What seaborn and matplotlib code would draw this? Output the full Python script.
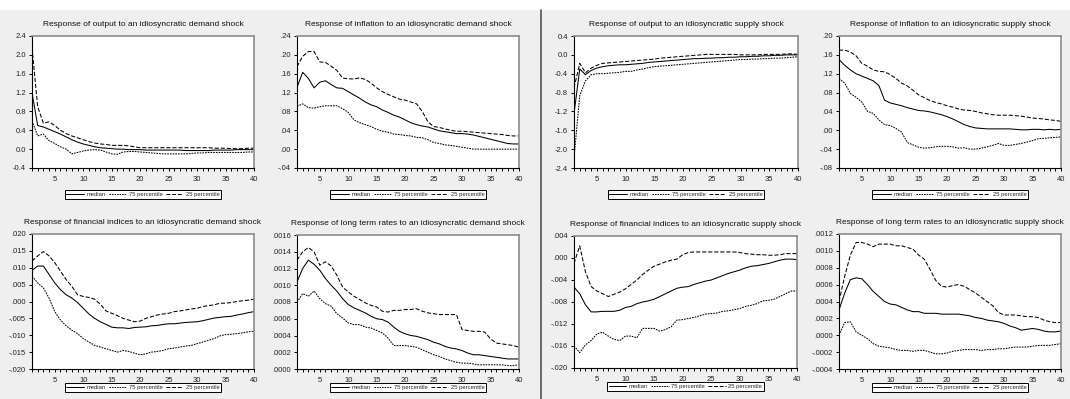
import matplotlib
matplotlib.use("Agg")
import matplotlib.pyplot as plt
from matplotlib.lines import Line2D
import pandas as pd
import seaborn as sns

horizon = list(range(1, 41))

# ---- Output, demand shock
out_dem_median = [1.20, 0.50, 0.47, 0.42, 0.37, 0.32, 0.26, 0.20, 0.15, 0.11, 0.08, 0.05, 0.03, 0.02, 0.01, 0.00, 0.00, -0.01, -0.01, -0.01,
                  -0.02, -0.02, -0.02, -0.02, -0.02, -0.02, -0.02, -0.03, -0.03, -0.03, -0.03, -0.03, -0.02, -0.02, -0.02, -0.02, -0.01, -0.01, -0.01, -0.01]
out_dem_p75 = [0.60, 0.28, 0.32, 0.18, 0.12, 0.05, 0.00, -0.10, -0.07, -0.04, -0.02, -0.01, -0.02, -0.06, -0.10, -0.11, -0.06, -0.05, -0.05, -0.06,
               -0.07, -0.08, -0.09, -0.10, -0.10, -0.10, -0.10, -0.10, -0.09, -0.08, -0.08, -0.07, -0.07, -0.07, -0.07, -0.07, -0.07, -0.07, -0.06, -0.06]
out_dem_p25 = [2.15, 0.90, 0.55, 0.58, 0.50, 0.40, 0.33, 0.28, 0.24, 0.20, 0.16, 0.13, 0.11, 0.10, 0.08, 0.08, 0.08, 0.07, 0.05, 0.03,
               0.03, 0.03, 0.03, 0.03, 0.03, 0.03, 0.03, 0.03, 0.03, 0.03, 0.03, 0.03, 0.02, 0.02, 0.02, 0.01, 0.01, 0.01, 0.02, 0.02]

# ---- Inflation, demand shock
inf_dem_median = [0.131, 0.163, 0.150, 0.130, 0.142, 0.145, 0.137, 0.130, 0.129, 0.122, 0.115, 0.108, 0.100, 0.094, 0.090, 0.083, 0.078, 0.072, 0.068, 0.062,
                  0.056, 0.052, 0.049, 0.047, 0.043, 0.039, 0.037, 0.035, 0.033, 0.033, 0.032, 0.030, 0.027, 0.024, 0.021, 0.018, 0.015, 0.012, 0.011, 0.011]
inf_dem_p75 = [0.091, 0.096, 0.088, 0.087, 0.090, 0.092, 0.092, 0.092, 0.086, 0.078, 0.062, 0.056, 0.052, 0.048, 0.042, 0.038, 0.036, 0.032, 0.031, 0.029,
               0.028, 0.025, 0.024, 0.020, 0.014, 0.012, 0.009, 0.008, 0.006, 0.004, 0.002, 0.000, 0.000, 0.000, 0.000, 0.000, 0.000, 0.000, 0.000, 0.000]
inf_dem_p25 = [0.175, 0.197, 0.207, 0.207, 0.185, 0.184, 0.176, 0.167, 0.151, 0.149, 0.149, 0.151, 0.148, 0.140, 0.130, 0.122, 0.116, 0.111, 0.106, 0.104,
               0.100, 0.096, 0.080, 0.058, 0.048, 0.046, 0.043, 0.040, 0.038, 0.038, 0.037, 0.036, 0.035, 0.034, 0.033, 0.032, 0.031, 0.029, 0.028, 0.028]

# ---- Output, supply shock
out_sup_median = [-1.25, -0.30, -0.42, -0.33, -0.28, -0.25, -0.23, -0.22, -0.21, -0.21, -0.20, -0.19, -0.18, -0.16, -0.15, -0.14, -0.13, -0.12, -0.11, -0.10,
                  -0.09, -0.08, -0.08, -0.07, -0.07, -0.06, -0.06, -0.05, -0.05, -0.04, -0.04, -0.03, -0.03, -0.02, -0.02, -0.01, -0.01, 0.00, 0.00, 0.00]
out_sup_p75 = [-2.20, -0.86, -0.55, -0.42, -0.40, -0.40, -0.39, -0.38, -0.37, -0.35, -0.35, -0.32, -0.30, -0.27, -0.25, -0.24, -0.23, -0.22, -0.21, -0.20,
               -0.19, -0.18, -0.17, -0.16, -0.15, -0.14, -0.13, -0.12, -0.11, -0.10, -0.10, -0.09, -0.09, -0.08, -0.08, -0.07, -0.07, -0.06, -0.05, -0.04]
out_sup_p25 = [-0.70, -0.18, -0.38, -0.28, -0.22, -0.18, -0.17, -0.16, -0.15, -0.14, -0.13, -0.12, -0.11, -0.10, -0.09, -0.07, -0.06, -0.05, -0.04, -0.03,
               -0.02, -0.01, 0.00, 0.01, 0.01, 0.01, 0.01, 0.01, 0.01, 0.00, 0.00, 0.00, 0.00, 0.01, 0.01, 0.01, 0.01, 0.02, 0.02, 0.01]

# ---- Inflation, supply shock
inf_sup_median = [0.150, 0.138, 0.128, 0.120, 0.115, 0.110, 0.105, 0.095, 0.064, 0.058, 0.055, 0.052, 0.048, 0.045, 0.042, 0.041, 0.039, 0.036, 0.033, 0.029,
                  0.024, 0.018, 0.012, 0.008, 0.005, 0.004, 0.003, 0.003, 0.003, 0.003, 0.003, 0.002, 0.001, 0.001, 0.002, 0.002, 0.001, 0.002, 0.001, 0.002]
inf_sup_p75 = [0.110, 0.100, 0.078, 0.070, 0.060, 0.040, 0.036, 0.022, 0.012, 0.010, 0.004, -0.004, -0.026, -0.031, -0.036, -0.038, -0.037, -0.035, -0.034, -0.034,
               -0.035, -0.038, -0.037, -0.040, -0.040, -0.038, -0.035, -0.032, -0.028, -0.032, -0.032, -0.030, -0.028, -0.025, -0.022, -0.018, -0.017, -0.016, -0.015, -0.014]
inf_sup_p25 = [0.170, 0.170, 0.166, 0.158, 0.142, 0.136, 0.128, 0.125, 0.124, 0.118, 0.110, 0.100, 0.094, 0.085, 0.075, 0.069, 0.063, 0.059, 0.056, 0.052,
               0.049, 0.045, 0.043, 0.042, 0.040, 0.037, 0.035, 0.033, 0.032, 0.032, 0.032, 0.031, 0.030, 0.028, 0.026, 0.025, 0.024, 0.022, 0.021, 0.019]

# ---- Financial indices, demand shock
fin_dem_median = [0.0092, 0.0105, 0.0105, 0.0080, 0.0055, 0.0035, 0.0020, 0.0010, -0.0003, -0.0020, -0.0037, -0.0050, -0.0060, -0.0068, -0.0076, -0.0078, -0.0078, -0.0080, -0.0077, -0.0076,
                  -0.0075, -0.0072, -0.0071, -0.0068, -0.0066, -0.0066, -0.0064, -0.0062, -0.0061, -0.0060, -0.0057, -0.0053, -0.0049, -0.0047, -0.0045, -0.0044, -0.0040, -0.0037, -0.0033, -0.0030]
fin_dem_p75 = [0.0075, 0.0055, 0.0040, 0.0010, -0.0030, -0.0055, -0.0072, -0.0085, -0.0095, -0.0110, -0.0120, -0.0130, -0.0135, -0.0140, -0.0145, -0.0150, -0.0145, -0.0148, -0.0153, -0.0158,
               -0.0155, -0.0150, -0.0148, -0.0145, -0.0140, -0.0138, -0.0135, -0.0132, -0.0130, -0.0125, -0.0120, -0.0115, -0.0110, -0.0102, -0.0098, -0.0097, -0.0095, -0.0093, -0.0090, -0.0088]
fin_dem_p25 = [0.0120, 0.0135, 0.0148, 0.0135, 0.0115, 0.0090, 0.0065, 0.0045, 0.0020, 0.0015, 0.0012, 0.0007, -0.0008, -0.0028, -0.0035, -0.0042, -0.0050, -0.0055, -0.0060, -0.0058,
               -0.0050, -0.0045, -0.0040, -0.0037, -0.0035, -0.0030, -0.0028, -0.0025, -0.0022, -0.0020, -0.0015, -0.0012, -0.0010, -0.0005, -0.0005, -0.0003, 0.0000, 0.0002, 0.0004, 0.0007]

# ---- Long term rates, demand shock
ltr_dem_median = [0.00104, 0.00120, 0.00130, 0.00125, 0.00118, 0.00108, 0.00100, 0.00093, 0.00084, 0.00077, 0.00073, 0.00070, 0.00067, 0.00063, 0.00060, 0.00059, 0.00056, 0.00050, 0.00045, 0.00042,
                  0.00040, 0.00039, 0.00037, 0.00035, 0.00032, 0.00030, 0.00027, 0.00025, 0.00024, 0.00022, 0.00019, 0.00017, 0.00017, 0.00016, 0.00015, 0.00014, 0.00013, 0.00012, 0.00012, 0.00012]
ltr_dem_p75 = [0.00080, 0.00090, 0.00087, 0.00093, 0.00084, 0.00078, 0.00075, 0.00066, 0.00061, 0.00055, 0.00053, 0.00053, 0.00050, 0.00049, 0.00046, 0.00043, 0.00037, 0.00028, 0.00028, 0.00028,
               0.00027, 0.00026, 0.00023, 0.00020, 0.00017, 0.00015, 0.00012, 0.00010, 0.00008, 0.00007, 0.00007, 0.00006, 0.00005, 0.00005, 0.00005, 0.00005, 0.00005, 0.00004, 0.00004, 0.00005]
ltr_dem_p25 = [0.00130, 0.00140, 0.00145, 0.00140, 0.00124, 0.00128, 0.00123, 0.00112, 0.00098, 0.00092, 0.00087, 0.00083, 0.00079, 0.00076, 0.00074, 0.00069, 0.00068, 0.00070, 0.00070, 0.00071,
               0.00071, 0.00072, 0.00069, 0.00067, 0.00066, 0.00065, 0.00065, 0.00065, 0.00065, 0.00047, 0.00046, 0.00045, 0.00045, 0.00044, 0.00036, 0.00031, 0.00030, 0.00029, 0.00028, 0.00026]

# ---- Financial indices, supply shock
fin_sup_median = [-0.0053, -0.0065, -0.0085, -0.0098, -0.0098, -0.0097, -0.0097, -0.0097, -0.0095, -0.0090, -0.0088, -0.0083, -0.0080, -0.0078, -0.0075, -0.0070, -0.0065, -0.0060, -0.0055, -0.0053,
                  -0.0052, -0.0048, -0.0045, -0.0042, -0.0040, -0.0036, -0.0032, -0.0028, -0.0025, -0.0022, -0.0018, -0.0015, -0.0014, -0.0012, -0.0010, -0.0007, -0.0004, -0.0002, -0.0002, -0.0003]
fin_sup_p75 = [-0.0160, -0.0172, -0.0158, -0.0150, -0.0138, -0.0135, -0.0142, -0.0148, -0.0150, -0.0142, -0.0142, -0.0145, -0.0128, -0.0128, -0.0128, -0.0133, -0.0130, -0.0125, -0.0113, -0.0112,
               -0.0110, -0.0108, -0.0105, -0.0102, -0.0101, -0.0100, -0.0097, -0.0096, -0.0094, -0.0092, -0.0088, -0.0086, -0.0083, -0.0078, -0.0077, -0.0075, -0.0070, -0.0065, -0.0060, -0.0060]
fin_sup_p25 = [-0.0010, 0.0022, -0.0025, -0.0052, -0.0060, -0.0065, -0.0070, -0.0066, -0.0062, -0.0056, -0.0048, -0.0040, -0.0030, -0.0022, -0.0015, -0.0011, -0.0007, -0.0004, -0.0002, 0.0006,
               0.0010, 0.0011, 0.0011, 0.0011, 0.0011, 0.0011, 0.0011, 0.0011, 0.0011, 0.0010, 0.0008, 0.0007, 0.0006, 0.0006, 0.0005, 0.0005, 0.0006, 0.0008, 0.0008, 0.0008]

# ---- Long term rates, supply shock
ltr_sup_median = [0.00030, 0.00050, 0.00066, 0.00068, 0.00067, 0.00060, 0.00052, 0.00046, 0.00040, 0.00037, 0.00036, 0.00033, 0.00030, 0.00028, 0.00028, 0.00026, 0.00026, 0.00026, 0.00025, 0.00025,
                  0.00025, 0.00025, 0.00024, 0.00023, 0.00021, 0.00020, 0.00018, 0.00017, 0.00016, 0.00014, 0.00011, 0.00009, 0.00006, 0.00007, 0.00008, 0.00007, 0.00005, 0.00004, 0.00004, 0.00005]
ltr_sup_p75 = [0.00000, 0.00015, 0.00016, 0.00004, 0.00000, -0.00004, -0.00010, -0.00013, -0.00014, -0.00015, -0.00017, -0.00018, -0.00018, -0.00019, -0.00018, -0.00018, -0.00020, -0.00022, -0.00022, -0.00021,
               -0.00019, -0.00018, -0.00017, -0.00017, -0.00017, -0.00018, -0.00017, -0.00017, -0.00016, -0.00016, -0.00015, -0.00014, -0.00014, -0.00014, -0.00013, -0.00012, -0.00012, -0.00012, -0.00011, -0.00010]
ltr_sup_p25 = [0.00040, 0.00070, 0.00095, 0.00110, 0.00110, 0.00108, 0.00105, 0.00108, 0.00108, 0.00108, 0.00106, 0.00106, 0.00104, 0.00102, 0.00095, 0.00090, 0.00078, 0.00065, 0.00058, 0.00057,
               0.00059, 0.00060, 0.00058, 0.00054, 0.00050, 0.00045, 0.00040, 0.00035, 0.00027, 0.00024, 0.00024, 0.00024, 0.00023, 0.00022, 0.00022, 0.00021, 0.00018, 0.00016, 0.00015, 0.00015]

# ---- Titles and y-axis ticks
titles = [
    "Response of output to an idiosyncratic demand shock",
    "Response of inflation to an idiosyncratic demand shock",
    "Response of output to an idiosyncratic supply shock",
    "Response of inflation to an idiosyncratic supply shock",
    "Response of financial indices to an idiosyncratic demand shock",
    "Response of long term rates to an idiosyncratic demand shock",
    "Response of financial indices to an idiosyncratic supply shock",
    "Response of long term rates to an idiosyncratic supply shock",
]
yticks_out_dem = [-0.4, 0.0, 0.4, 0.8, 1.2, 1.6, 2.0, 2.4]
ylabels_out_dem = ["-0.4", "0.0", "0.4", "0.8", "1.2", "1.6", "2.0", "2.4"]
yticks_inf_dem = [-0.04, 0.0, 0.04, 0.08, 0.12, 0.16, 0.20, 0.24]
ylabels_inf_dem = ["-.04", ".00", ".04", ".08", ".12", ".16", ".20", ".24"]
yticks_out_sup = [-2.4, -2.0, -1.6, -1.2, -0.8, -0.4, 0.0, 0.4]
ylabels_out_sup = ["-2.4", "-2.0", "-1.6", "-1.2", "-0.8", "-0.4", "0.0", "0.4"]
yticks_inf_sup = [-0.08, -0.04, 0.0, 0.04, 0.08, 0.12, 0.16, 0.20]
ylabels_inf_sup = ["-.08", "-.04", ".00", ".04", ".08", ".12", ".16", ".20"]
yticks_fin_dem = [-0.020, -0.015, -0.010, -0.005, 0.0, 0.005, 0.010, 0.015, 0.020]
ylabels_fin_dem = ["-.020", "-.015", "-.010", "-.005", ".000", ".005", ".010", ".015", ".020"]
yticks_ltr_dem = [0.0, 0.0002, 0.0004, 0.0006, 0.0008, 0.0010, 0.0012, 0.0014, 0.0016]
ylabels_ltr_dem = [".0000", ".0002", ".0004", ".0006", ".0008", ".0010", ".0012", ".0014", ".0016"]
yticks_fin_sup = [-0.020, -0.016, -0.012, -0.008, -0.004, 0.0, 0.004]
ylabels_fin_sup = ["-.020", "-.016", "-.012", "-.008", "-.004", ".000", ".004"]
yticks_ltr_sup = [-0.0004, -0.0002, 0.0, 0.0002, 0.0004, 0.0006, 0.0008, 0.0010, 0.0012]
ylabels_ltr_sup = ["-.0004", "-.0002", ".0000", ".0002", ".0004", ".0006", ".0008", ".0010", ".0012"]

series_names = ["median", "75 percentile", "25 percentile"]

panels = [
    (out_dem_median, out_dem_p75, out_dem_p25, yticks_out_dem, ylabels_out_dem),
    (inf_dem_median, inf_dem_p75, inf_dem_p25, yticks_inf_dem, ylabels_inf_dem),
    (out_sup_median, out_sup_p75, out_sup_p25, yticks_out_sup, ylabels_out_sup),
    (inf_sup_median, inf_sup_p75, inf_sup_p25, yticks_inf_sup, ylabels_inf_sup),
    (fin_dem_median, fin_dem_p75, fin_dem_p25, yticks_fin_dem, ylabels_fin_dem),
    (ltr_dem_median, ltr_dem_p75, ltr_dem_p25, yticks_ltr_dem, ylabels_ltr_dem),
    (fin_sup_median, fin_sup_p75, fin_sup_p25, yticks_fin_sup, ylabels_fin_sup),
    (ltr_sup_median, ltr_sup_p75, ltr_sup_p25, yticks_ltr_sup, ylabels_ltr_sup),
]

sns.set_theme(style="white")
plt.rcParams["font.family"] = ["Liberation Sans", "DejaVu Sans"]

W, H = 1070, 399
fig = plt.figure(figsize=(W / 100, H / 100), dpi=100)
fig.patch.set_facecolor("#efefef")

# white strip along the top edge and the divider between the two shock groups
fig.add_artist(plt.Rectangle((0, 1 - 10 / H), 1, 10 / H, transform=fig.transFigure,
                             facecolor="white", edgecolor="none", zorder=0))
fig.add_artist(Line2D([541 / W, 541 / W], [0, 1 - 10 / H], transform=fig.transFigure,
                      color="#555555", linewidth=1.2))

# axes boxes in pixels: (left, top, width, height)
boxes = [
    (32, 36, 222, 132), (297, 36, 222, 132), (574, 36, 224, 132), (839, 36, 222, 132),
    (32, 234, 222, 135), (297, 235, 222, 134), (574, 236, 223, 132), (839, 234, 222, 135),
]
legend_gap = [22, 22, 22, 22, 14, 14, 14, 14]

styles = {
    "median": dict(linestyle="-"),
    "75 percentile": dict(linestyle=(0, (1.6, 1.0))),
    "25 percentile": dict(linestyle=(0, (4.0, 1.8))),
}

for i, (med, p75, p25, yt, yl) in enumerate(panels):
    left, top, w, h = boxes[i]
    ax = fig.add_axes([left / W, 1 - (top + h) / H, w / W, h / H])
    ax.set_facecolor("white")

    df = pd.DataFrame({
        "horizon": horizon * 3,
        "value": med + p75 + p25,
        "series": ["median"] * 40 + ["75 percentile"] * 40 + ["25 percentile"] * 40,
    })
    for name in series_names:
        sns.lineplot(data=df[df["series"] == name], x="horizon", y="value", ax=ax,
                     color="black", linewidth=0.75, legend=False, **styles[name])

    ax.set_xlim(1, 40)
    ax.set_ylim(yt[0], yt[-1])
    ax.set_xticks(horizon)
    ax.set_xticklabels([str(t) if t % 5 == 0 else "" for t in horizon])
    ax.set_yticks(yt)
    ax.set_yticklabels(yl)
    ax.set_xlabel("")
    ax.set_ylabel("")
    ax.tick_params(axis="both", which="major", direction="out", length=2.5, width=0.7,
                   color="black", labelsize=5.5, pad=2, labelcolor="#222222")
    ax.tick_params(axis="x", bottom=True, pad=3)
    ax.tick_params(axis="y", left=True)
    for side in ["left", "bottom"]:
        ax.spines[side].set_color("black")
        ax.spines[side].set_linewidth(0.8)
    for side in ["top", "right"]:
        ax.spines[side].set_color("#8c8c8c")
        ax.spines[side].set_linewidth(1.2)
    ax.set_title(titles[i], fontsize=6.0, pad=7.5, color="#111111")

    handles = [Line2D([], [], color="black", linewidth=0.7, **styles[n]) for n in series_names]
    leg = ax.legend(handles, series_names, loc="upper center",
                    bbox_to_anchor=(0.5, -legend_gap[i] / h), ncol=3, fontsize=4.2,
                    frameon=True, fancybox=False, borderpad=0.3, handlelength=3.0,
                    handletextpad=0.4, columnspacing=0.6, borderaxespad=0)
    frame = leg.get_frame()
    frame.set_edgecolor("black")
    frame.set_linewidth(0.7)
    frame.set_facecolor("white")
    frame.set_alpha(1)

fig.savefig("out.png", dpi=100, facecolor=fig.get_facecolor())
